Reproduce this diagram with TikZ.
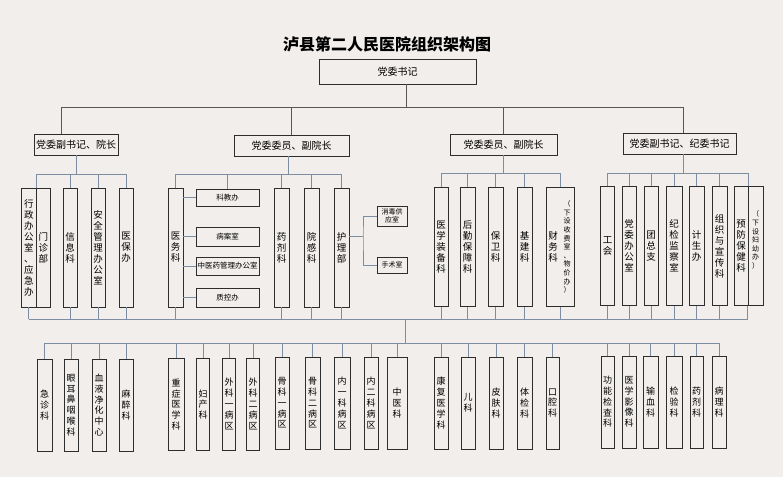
\documentclass[tikz,border=0pt]{standalone}
\usepackage{fontspec}
\setmainfont{Noto Sans CJK SC}
\definecolor{paper}{RGB}{241,238,235}
\definecolor{boxline}{RGB}{45,45,45}
\definecolor{linkc}{RGB}{125,142,162}
\tikzset{
  bx/.style={draw=boxline, line width=0.9pt, fill=paper, inner sep=0pt, align=center},
  vb/.style={bx, minimum width=15pt, minimum height=119pt, font=\fontsize{9.5}{11}\selectfont},
  lb/.style={bx, minimum width=14pt, minimum height=92pt, font=\fontsize{9}{10.8}\selectfont},
  hb/.style={bx, minimum height=21pt, font=\fontsize{10}{12}\selectfont},
  sb/.style={bx, minimum width=63pt, minimum height=18pt, font=\fontsize{7.5}{9}\selectfont},
  smalltxt/.style={inner sep=0pt, align=center, font=\fontsize{7}{8.6}\selectfont},
  ln/.style={draw=linkc, line width=0.7pt},
  topln/.style={draw=boxline!80, line width=0.7pt}
}
\begin{document}
\begin{tikzpicture}[x=1pt,y=-1pt]
\fill[paper] (0,0) rectangle (783,477);
\useasboundingbox (0,0) rectangle (783,477);

\node[font=\fontsize{16}{18}\selectfont\bfseries] (title) at (387,44) {泸县第二人民医院组织架构图};
\node[hb, minimum width=157pt, minimum height=25pt] (dwsj) at (397.5,71.5) {党委书记};

% second level
\node[hb, minimum width=84pt] (fy1) at (76,144.5) {党委副书记、院长};
\node[hb, minimum width=115pt] (fy2) at (291.5,145.5) {党委委员、副院长};
\node[hb, minimum width=107pt] (fy3) at (503.5,144.5) {党委委员、副院长};
\node[hb, minimum width=113pt] (fy4) at (679.5,143.5) {党委副书记、纪委书记};

\coordinate (tbL) at (61,107);
\coordinate (tbM) at (406,107);
\coordinate (tbR) at (683,107);
\draw[topln] (tbL) -- (tbR) (tbM) -- (tbM |- dwsj.south)
  (tbL) -- (tbL |- fy1.north) (fy2.north) -- (fy2.north |- tbL)
  (fy3.north) -- (fy3.north |- tbL) (tbR) -- (tbR |- fy4.north);

% group 1
\node[vb, minimum width=14.5pt] (xzb) at (28.75,247.5) {行\\政\\办\\公\\室\\、\\应\\急\\办};
\node[vb, minimum width=14.5pt] (mzb) at (43.25,247.5) {门\\诊\\部};
\node[vb, minimum width=14pt] (xxk) at (70,247.5) {信\\息\\科};
\node[vb, minimum width=14pt] (aqb) at (98,247.5) {安\\全\\管\\理\\办\\公\\室};
\node[vb, minimum width=14pt] (ybb) at (126,247.5) {医\\保\\办};

% group 2
\node[vb] (ywk) at (175.5,247.5) {医\\务\\科};
\node[sb, minimum height=17pt] (kjb) at (227.5,197.5) {科教办};
\node[sb, minimum height=19pt] (bas) at (227.5,236.5) {病案室};
\node[sb] (zyy) at (227.5,266) {中医药管理办公室};
\node[sb, minimum height=19pt] (zkb) at (227.5,297.5) {质控办};
\node[vb] (yjk) at (281.5,247.5) {药\\剂\\科};
\node[vb] (ygk) at (311.5,247.5) {院\\感\\科};
\node[vb] (hlb) at (341.5,247.5) {护\\理\\部};
\node[sb, minimum width=30pt, minimum height=20pt, font=\fontsize{7}{8.5}\selectfont] (xdgy) at (392,216) {消毒供\\应室};
\node[sb, minimum width=30pt, minimum height=16pt, font=\fontsize{7}{8.5}\selectfont] (sss) at (392,265) {手术室};

% group 3
\node[vb, minimum width=14pt] (zbk) at (441,247) {医\\学\\装\\备\\科};
\node[vb] (hqk) at (467.5,247) {后\\勤\\保\\障\\科};
\node[vb] (bwk) at (495.5,247) {保\\卫\\科};
\node[vb] (jjk) at (524.5,247) {基\\建\\科};
\node[vb, minimum width=28pt] (cwk) at (560,247) {};
\node[font=\fontsize{9.5}{11}\selectfont, inner sep=0pt, align=center] (cwk-a) at (553,247) {财\\务\\科};
\node[smalltxt] (cwk-b) at (567,247) {（\\下\\设\\收\\费\\室\\、\\物\\价\\办\\）};

% group 4
\node[vb, minimum width=14pt] (gh) at (607.5,246) {工\\会};
\node[vb, minimum width=14pt] (dwb) at (629,246) {党\\委\\办\\公\\室};
\node[vb, minimum width=14pt] (tzz) at (651,246) {团\\总\\支};
\node[vb, minimum width=16pt] (jjs) at (674,246) {纪\\检\\监\\察\\室};
\node[vb] (jsb) at (696.5,246) {计\\生\\办};
\node[vb] (zzk) at (719.5,246) {组\\织\\与\\宣\\传\\科};
\node[vb, minimum width=14pt] (yfk) at (741,246) {预\\防\\保\\健\\科};
\node[vb] (fyb) at (755.5,246) {};
\node[smalltxt] (fyb-t) at (755.5,240) {（\\下\\设\\妇\\幼\\办\\）};

% branch buses
\coordinate (b1) at (0,174);
\coordinate (b2) at (0,174);
\coordinate (b3) at (0,173);
\coordinate (b4) at (0,173);
\draw[ln] (xzb.north east |- b1) -- (ybb.north |- b1)
  (fy1.south) -- (fy1.south |- b1)
  (xzb.north east) -- (xzb.north east |- b1) (xxk.north) -- (xxk.north |- b1)
  (aqb.north) -- (aqb.north |- b1) (ybb.north) -- (ybb.north |- b1);
\draw[ln] (ywk.north |- b2) -- (hlb.north |- b2)
  ([xshift=-3.5pt]fy2.south) -- ([xshift=-3.5pt]fy2.south |- b2)
  (ywk.north) -- (ywk.north |- b2) (kjb.north) -- (kjb.north |- b2)
  (yjk.north) -- (yjk.north |- b2) (ygk.north) -- (ygk.north |- b2)
  (hlb.north) -- (hlb.north |- b2);
\draw[ln] (ywk.east |- kjb.west) -- (kjb.west) (ywk.east |- bas.west) -- (bas.west)
  (ywk.east |- zyy.west) -- (zyy.west) (ywk.east |- zkb.west) -- (zkb.west);
\coordinate (hj) at (363,236);
\draw[ln] (hlb.east |- hj) -- (hj) (xdgy.west) -| (hj) |- (sss.west);
\draw[ln] (zbk.north |- b3) -- (cwk.north |- b3)
  (fy3.south) -- (fy3.south |- b3)
  (zbk.north) -- (zbk.north |- b3) (hqk.north) -- (hqk.north |- b3)
  (bwk.north) -- (bwk.north |- b3) (jjk.north) -- (jjk.north |- b3)
  (cwk.north) -- (cwk.north |- b3);
\draw[ln] (gh.north |- b4) -- (yfk.north east |- b4)
  ([xshift=3.5pt]fy4.south) -- ([xshift=3.5pt]fy4.south |- b4)
  (gh.north) -- (gh.north |- b4) (dwb.north) -- (dwb.north |- b4)
  (tzz.north) -- (tzz.north |- b4) (jjs.north) -- (jjs.north |- b4)
  (jsb.north) -- (jsb.north |- b4) (zzk.north) -- (zzk.north |- b4)
  (yfk.north east) -- (yfk.north east |- b4);

% lower level
\node[lb, minimum width=15pt] (jzk) at (44.5,405) {急\\诊\\科};
\node[lb] (yek) at (71,405) {眼\\耳\\鼻\\咽\\喉\\科};
\node[lb] (xyjh) at (99,405) {血\\液\\净\\化\\中\\心};
\node[lb] (mzk) at (126,405) {麻\\醉\\科};
\node[lb, minimum width=16pt] (zzyx) at (176,404.5) {重\\症\\医\\学\\科};
\node[lb, minimum width=13pt] (fck) at (203,404.5) {妇\\产\\科};
\node[lb, minimum width=13pt] (wk1) at (229,404) {外\\科\\一\\病\\区};
\node[lb, minimum width=13pt] (wk2) at (253,404) {外\\科\\二\\病\\区};
\node[lb] (gk1) at (282,403) {骨\\科\\一\\病\\区};
\node[lb, minimum width=15pt] (gk2) at (312.5,403) {骨\\科\\二\\病\\区};
\node[lb, minimum width=16pt] (nk1) at (342,403) {内\\一\\科\\病\\区};
\node[lb] (nk2) at (371,403) {内\\二\\科\\病\\区};
\node[lb, minimum width=20pt] (zyk) at (397,403) {中\\医\\科};
\node[lb] (kfk) at (441,403) {康\\复\\医\\学\\科};
\node[lb] (ek) at (468,403) {儿\\科};
\node[lb] (pfk) at (496,403) {皮\\肤\\科};
\node[lb, minimum width=15pt] (tjk) at (524.5,403) {体\\检\\科};
\node[lb, minimum width=13pt] (kqk) at (552.5,403) {口\\腔\\科};
\node[lb, minimum width=13pt] (gnjc) at (607.5,402) {功\\能\\检\\查\\科};
\node[lb] (yxyx) at (629,402) {医\\学\\影\\像\\科};
\node[lb, minimum width=15pt] (sxk) at (650.5,402) {输\\血\\科};
\node[lb, minimum width=16pt] (jyk) at (674,402) {检\\验\\科};
\node[lb, minimum width=13pt] (yjk2) at (696.5,402) {药\\剂\\科};
\node[lb] (blk) at (719,402) {病\\理\\科};

% main buses
\coordinate (ub) at (405,319);
\coordinate (lb) at (405,343);
\draw[ln] (xzb.south |- ub) -- (fyb.south west |- ub) (ub) -- (lb)
  (xzb.south) -- (xzb.south |- ub) (xxk.south) -- (xxk.south |- ub)
  (aqb.south) -- (aqb.south |- ub) (ybb.south) -- (ybb.south |- ub)
  (ywk.south) -- (ywk.south |- ub) (yjk.south) -- (yjk.south |- ub)
  (ygk.south) -- (ygk.south |- ub) (hlb.south) -- (hlb.south |- ub)
  (zbk.south) -- (zbk.south |- ub) (hqk.south) -- (hqk.south |- ub)
  (bwk.south) -- (bwk.south |- ub) (jjk.south) -- (jjk.south |- ub)
  (cwk.south) -- (cwk.south |- ub) (gh.south) -- (gh.south |- ub)
  (dwb.south) -- (dwb.south |- ub) (tzz.south) -- (tzz.south |- ub)
  (jjs.south) -- (jjs.south |- ub) (jsb.south) -- (jsb.south |- ub)
  (zzk.south) -- (zzk.south |- ub) (fyb.south west) -- (fyb.south west |- ub);
\draw[ln] (jzk.north |- lb) -- (blk.north |- lb)
  (jzk.north) -- (jzk.north |- lb) (yek.north) -- (yek.north |- lb)
  (xyjh.north) -- (xyjh.north |- lb) (mzk.north) -- (mzk.north |- lb)
  (zzyx.north) -- (zzyx.north |- lb) (fck.north) -- (fck.north |- lb)
  (wk1.north) -- (wk1.north |- lb) (wk2.north) -- (wk2.north |- lb)
  (gk1.north) -- (gk1.north |- lb) (gk2.north) -- (gk2.north |- lb)
  (nk1.north) -- (nk1.north |- lb) (nk2.north) -- (nk2.north |- lb)
  (zyk.north) -- (zyk.north |- lb) (kfk.north) -- (kfk.north |- lb)
  (ek.north) -- (ek.north |- lb) (pfk.north) -- (pfk.north |- lb)
  (tjk.north) -- (tjk.north |- lb) (kqk.north) -- (kqk.north |- lb)
  (gnjc.north) -- (gnjc.north |- lb) (yxyx.north) -- (yxyx.north |- lb)
  (sxk.north) -- (sxk.north |- lb) (jyk.north) -- (jyk.north |- lb)
  (yjk2.north) -- (yjk2.north |- lb) (blk.north) -- (blk.north |- lb);
\end{tikzpicture}
\end{document}
